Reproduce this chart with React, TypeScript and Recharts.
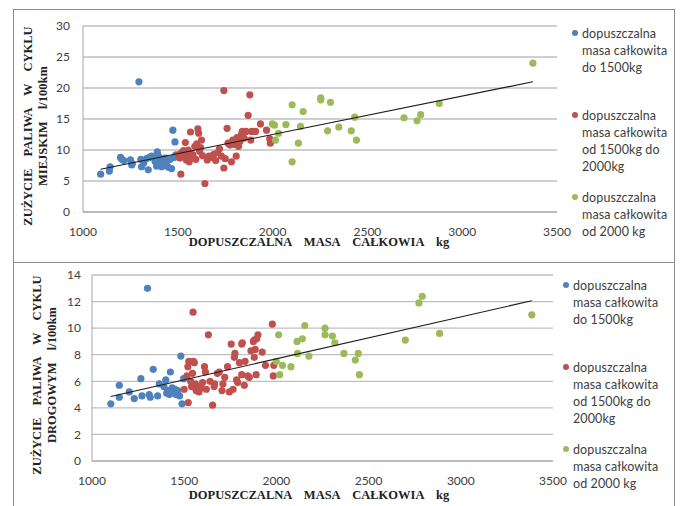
import { CartesianGrid, Scatter, ScatterChart, XAxis, YAxis } from 'recharts'

// masa [kg], zużycie [l/100km] – cykl miejski
const cityUpTo1500: [number, number][] = [
  [1093, 6.1], [1139, 6.6], [1143, 7.3], [1198, 8.8], [1205, 8.5], [1215, 8.3],
  [1250, 8.4], [1257, 7.6], [1260, 7.8], [1295, 21.0], [1305, 8.5], [1309, 7.3],
  [1320, 7.9], [1335, 8.6], [1344, 6.8], [1350, 8.8], [1362, 9.0], [1380, 8.2],
  [1392, 9.7], [1397, 9.1], [1388, 7.4], [1405, 8.0], [1415, 7.3], [1420, 8.4],
  [1432, 8.7], [1440, 7.7], [1450, 7.2], [1460, 8.5], [1467, 7.0], [1474, 13.2],
  [1485, 11.3], [1480, 8.8], [1490, 9.2],
]
const city1500to2000: [number, number][] = [
  [1516, 6.1], [1505, 9.2], [1510, 8.7], [1520, 9.6], [1525, 8.9], [1530, 9.9],
  [1535, 9.4], [1540, 11.2], [1545, 8.4], [1550, 9.0], [1555, 10.0], [1560, 8.1],
  [1565, 9.5], [1567, 12.9], [1570, 8.8], [1580, 9.2], [1590, 10.6], [1595, 8.5],
  [1600, 11.0], [1606, 13.4], [1610, 12.7], [1615, 9.8], [1620, 10.4], [1625, 11.6],
  [1630, 9.1], [1643, 4.6], [1655, 8.4], [1665, 9.0], [1675, 8.8], [1690, 9.3],
  [1700, 8.3], [1710, 9.6], [1720, 10.2], [1730, 9.0], [1743, 19.6], [1743, 7.1],
  [1750, 8.6], [1760, 13.5], [1765, 11.1], [1775, 10.8], [1783, 8.1], [1790, 11.6],
  [1800, 10.9], [1808, 9.0], [1812, 12.0], [1820, 10.6], [1828, 11.4], [1835, 12.5],
  [1840, 13.0], [1850, 11.9], [1860, 13.0], [1871, 15.6], [1880, 18.9], [1885, 11.6],
  [1890, 13.0], [1910, 13.0], [1936, 14.2], [1968, 13.2], [1985, 11.8], [1988, 11.1],
]
const cityFrom2000: [number, number][] = [
  [1999, 14.2], [2010, 14.0], [2015, 11.6], [2031, 12.7], [2070, 14.1], [2103, 17.3],
  [2103, 8.1], [2136, 11.1], [2147, 13.8], [2161, 16.2], [2254, 18.4], [2254, 18.1],
  [2290, 13.1], [2305, 17.7], [2349, 13.7], [2415, 13.1], [2433, 15.3], [2442, 11.6],
  [2693, 15.2], [2762, 14.7], [2781, 15.7], [2879, 17.5], [3373, 24.0],
]
const cityTrend: [number, number][] = [[1093, 6.9], [3373, 21.0]]

// cykl drogowy
const roadUpTo1500: [number, number][] = [
  [1102, 4.3], [1148, 5.7], [1148, 4.8], [1202, 5.2], [1229, 4.7], [1265, 6.2],
  [1271, 4.9], [1301, 13.0], [1310, 5.0], [1316, 4.8], [1332, 6.9], [1356, 4.9],
  [1365, 5.8], [1390, 5.6], [1400, 6.1], [1405, 5.1], [1410, 5.3], [1420, 5.0],
  [1425, 6.7], [1435, 5.5], [1440, 5.2], [1450, 5.4], [1455, 5.0], [1465, 5.3],
  [1475, 4.9], [1482, 7.9], [1488, 4.3], [1497, 6.2],
]
const road1500to2000: [number, number][] = [
  [1500, 5.4], [1515, 6.4], [1520, 7.1], [1522, 4.4], [1525, 7.5], [1535, 6.0],
  [1540, 5.6], [1545, 6.6], [1548, 11.2], [1550, 7.5], [1555, 7.4], [1560, 5.8],
  [1565, 5.3], [1575, 5.6], [1580, 5.2], [1590, 5.5], [1600, 5.9], [1610, 7.1],
  [1615, 6.7], [1620, 5.4], [1631, 9.5], [1640, 6.0], [1654, 4.2], [1662, 5.6],
  [1665, 5.8], [1680, 6.6], [1690, 6.7], [1705, 5.3], [1710, 5.8], [1720, 6.3],
  [1735, 7.1], [1745, 5.2], [1755, 8.8], [1765, 5.4], [1772, 7.8], [1775, 8.1],
  [1784, 6.1], [1790, 5.9], [1800, 7.4], [1812, 8.8], [1815, 8.9], [1812, 6.5],
  [1826, 5.7], [1830, 7.5], [1845, 6.4], [1853, 6.3], [1862, 8.3], [1875, 9.0],
  [1880, 9.1], [1880, 7.8], [1885, 8.4], [1890, 6.5], [1893, 9.2], [1900, 9.5],
  [1923, 8.2], [1941, 7.2], [1978, 10.3], [1983, 6.4], [1986, 7.2],
]
const roadFrom2000: [number, number][] = [
  [1999, 7.5], [2012, 9.5], [2018, 6.5], [2033, 7.2], [2079, 7.1], [2112, 9.0],
  [2114, 8.1], [2141, 9.2], [2154, 10.2], [2176, 7.9], [2264, 10.0], [2264, 9.5],
  [2304, 9.4], [2317, 8.9], [2366, 8.1], [2428, 7.6], [2444, 8.1], [2450, 6.5],
  [2699, 9.1], [2773, 11.9], [2791, 12.4], [2885, 9.6], [3385, 11.0],
]
const roadTrend: [number, number][] = [[1102, 4.86], [3385, 12.06]]

const massTicks = [1000, 1500, 2000, 2500, 3000, 3500]
const cityTicks = [0, 5, 10, 15, 20, 25, 30]
const roadTicks = [0, 2, 4, 6, 8, 10, 12, 14]

const seriesNames = [
  ['dopuszczalna', 'masa całkowita', 'do 1500kg'],
  ['dopuszczalna', 'masa całkowita', 'od 1500kg do', '2000kg'],
  ['dopuszczalna', 'masa całkowita', 'od 2000 kg'],
]
const colors = ['#4f81bd', '#c0504d', '#9bbb59']

const xTitle = 'DOPUSZCZALNA  MASA  CAŁKOWIA  kg'

const toPoints = (rows: [number, number][]) => rows.map(([x, y]) => ({ x, y }))

const dot = (color: string) => (props: any) =>
  <circle cx={props.cx} cy={props.cy} r={3.6} fill={color} />

const tickStyle = { fill: '#404040', fontSize: 12, fontFamily: 'Lato' }
const serif = '"Liberation Serif", "Times New Roman", serif'

type PanelProps = {
  top: number
  height: number
  yWidth: number
  marginTop: number
  marginBottom: number
  rightMargin: number
  yTicks: number[]
  yTickMargin: number
  groups: [number, number][][]
  trend: [number, number][]
  yLine2: string
  yTitleX: number
  yTitleY: number
  xTitleY: number
  legendX: number
  legendY: number
}

function Panel(p: PanelProps) {
  return (
    <>
      <div style={{ position: 'absolute', left: 14, top: p.top }}>
        <ScatterChart
          width={659}
          height={p.height}
          margin={{ top: p.marginTop, right: p.rightMargin, bottom: p.marginBottom, left: 0 }}
        >
          <CartesianGrid vertical={false} stroke="#bfbfbf" strokeWidth={1.3} />
          <XAxis
            type="number"
            dataKey="x"
            domain={[1000, 3500]}
            ticks={massTicks}
            interval={0}
            tick={tickStyle}
            tickLine={false}
            tickMargin={9}
            axisLine={{ stroke: '#a6a6a6' }}
            height={30}
            allowDataOverflow
          />
          <YAxis
            type="number"
            dataKey="y"
            domain={[p.yTicks[0], p.yTicks[p.yTicks.length - 1]]}
            ticks={p.yTicks}
            interval={0}
            tick={tickStyle}
            tickLine={false}
            tickMargin={p.yTickMargin}
            axisLine={{ stroke: '#a6a6a6' }}
            width={p.yWidth}
          />
          {p.groups.map((g, i) => (
            <Scatter
              key={i}
              data={toPoints(g)}
              fill={colors[i]}
              shape={dot(colors[i])}
              isAnimationActive={false}
            />
          ))}
          <Scatter
            data={toPoints(p.trend)}
            line={{ stroke: '#1a1a1a', strokeWidth: 1.1 }}
            shape={() => <g />}
            isAnimationActive={false}
          />
        </ScatterChart>
      </div>
      <div
        style={{
          position: 'absolute',
          left: p.yTitleX,
          top: p.yTitleY,
          transform: 'translate(-50%, -50%) rotate(-90deg)',
          fontFamily: serif,
          fontWeight: 'bold',
          fontSize: 12.5,
          lineHeight: '15px',
          textAlign: 'center',
          whiteSpace: 'pre',
          color: '#222',
          wordSpacing: 3,
        }}
      >
        {'ZUŻYCIE  PALIWA  W  CYKLU\n' + p.yLine2}
      </div>
      <div
        style={{
          position: 'absolute',
          left: 319,
          top: p.xTitleY,
          transform: 'translate(-50%, -50%)',
          fontFamily: serif,
          fontWeight: 'bold',
          fontSize: 12.5,
          whiteSpace: 'pre',
          color: '#222',
          wordSpacing: 3,
        }}
      >
        {xTitle}
      </div>
      {seriesNames.map((lines, i) => (
        <div
          key={i}
          style={{
            position: 'absolute',
            left: p.legendX,
            top: p.legendY + i * 82,
            fontFamily: 'Lato',
            fontSize: 12.5,
            lineHeight: '17px',
            letterSpacing: 0.1,
            color: '#404040',
          }}
        >
          <span
            style={{
              position: 'absolute',
              left: -10,
              top: 5.5,
              width: 6,
              height: 6,
              borderRadius: 3,
              background: colors[i],
            }}
          />
          {lines.map((t, j) => (
            <div key={j}>{t}</div>
          ))}
        </div>
      ))}
    </>
  )
}

export default function App() {
  return (
    <div style={{ position: 'absolute', left: 0, top: 0, width: 680, height: 506, background: '#fff', overflow: 'hidden' }}>
      <div style={{ position: 'absolute', left: 13, top: 9, width: 660, height: 520, border: '1px solid #8c8c8c' }} />
      <div style={{ position: 'absolute', left: 13, top: 262, width: 661, height: 1, background: '#8c8c8c' }} />
      <Panel
        top={10}
        height={252}
        yWidth={69}
        marginTop={16}
        marginBottom={20}
        rightMargin={116}
        yTicks={cityTicks}
        yTickMargin={7}
        groups={[cityUpTo1500, city1500to2000, cityFrom2000]}
        trend={cityTrend}
        yLine2="MIEJSKIM  l/100km"
        yTitleX={36}
        yTitleY={126}
        xTitleY={242}
        legendX={582}
        legendY={24.5}
      />
      <Panel
        top={263}
        height={243}
        yWidth={78}
        marginTop={12}
        marginBottom={15}
        rightMargin={120}
        yTicks={roadTicks}
        yTickMargin={5}
        groups={[roadUpTo1500, road1500to2000, roadFrom2000]}
        trend={roadTrend}
        yLine2="DROGOWYM  l/100km"
        yTitleX={45}
        yTitleY={375}
        xTitleY={495}
        legendX={573}
        legendY={276.5}
      />
    </div>
  )
}
